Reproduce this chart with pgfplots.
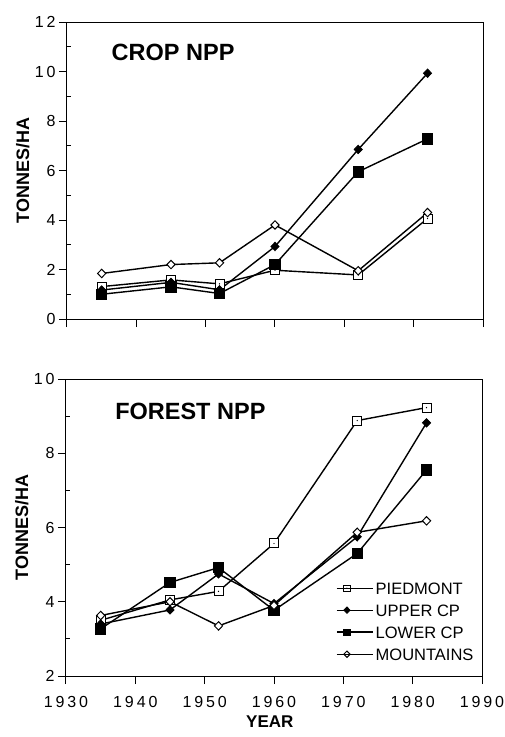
\documentclass[border=0pt]{standalone}
\usepackage{fontspec}
\setmainfont{Liberation Sans}
\newfontfamily\tickfont[LetterSpace=18]{Liberation Sans}
\usepackage{pgfplots}
\pgfplotsset{compat=1.18}

% open square with a small dot in the middle
\pgfdeclareplotmark{sqdot}{%
  \pgfpathrectangle{\pgfqpoint{-\pgfplotmarksize}{-\pgfplotmarksize}}{\pgfqpoint{2\pgfplotmarksize}{2\pgfplotmarksize}}%
  \pgfusepathqfillstroke
  \begin{pgfscope}
    \pgfsetfillcolor{black}%
    \pgfpathcircle{\pgfpointorigin}{0.7pt}%
    \pgfusepathqfill
  \end{pgfscope}
}

\pgfplotsset{
  npp/.style={
    scale only axis, width=416pt, height=297pt,
    xmin=1930, xmax=1990, xtick={1930,1940,...,1990},
    axis line style={line width=1pt},
    tick align=outside, xtick pos=bottom, ytick pos=left,
    major tick length=8pt, tick style={line width=1pt, black},
    /pgf/number format/assume math mode=true,
    /pgf/number format/1000 sep={},
    tick label style={font=\tickfont\fontsize{16}{19}\selectfont},
    xticklabel style={yshift=-9pt},
    ylabel={TONNES/HA},
    ylabel style={font=\bfseries\fontsize{18}{20}\selectfont, at={(rel axis cs:-0.106,0.5)}, anchor=center},
    extra y tick labels={},
    extra tick style={tick align=inside, major tick length=4pt},
    every axis plot/.append style={black, line width=1.4pt},
  },
  pied/.style={mark=sqdot, mark size=4.5pt, mark options={fill=white, line width=1pt}},
  upper/.style={mark=diamond*, mark size=4.2pt, mark options={fill=black, line width=0.8pt, xscale=1.3}},
  lower/.style={mark=square*, mark size=5.2pt, mark options={fill=black, line width=0.8pt}},
  mount/.style={mark=diamond*, mark size=4.2pt, mark options={fill=white, line width=1pt, xscale=1.3}},
}

\begin{document}
\begin{tikzpicture}
\useasboundingbox (0pt,0pt) rectangle (504pt,-737pt);

% crop panel
\begin{axis}[npp, at={(67pt,-319pt)}, anchor=south west,
  ymin=0, ymax=12, ytick={0,2,...,12}, extra y ticks={1,3,...,11},
  xticklabels={}]
  \addplot[pied] coordinates {(1935,1.31) (1945,1.58) (1952,1.42) (1960,1.97) (1972,1.78) (1982,4.06)};
  \addplot[upper] coordinates {(1935,1.17) (1945,1.48) (1952,1.18) (1960,2.93) (1972,6.85) (1982,9.93)};
  \addplot[lower] coordinates {(1935,1.00) (1945,1.30) (1952,1.03) (1960,2.20) (1972,5.95) (1982,7.28)};
  \addplot[mount] coordinates {(1935,1.84) (1945,2.20) (1952,2.27) (1960,3.80) (1972,1.95) (1982,4.30)};
  \node[anchor=base west, font=\bfseries\fontsize{23.5}{26}\selectfont] at (rel axis cs:0.099,0.869) {CROP NPP};
\end{axis}

% forest panel
\begin{axis}[npp, at={(66pt,-676pt)}, anchor=south west,
  ymin=2, ymax=10, ytick={2,4,...,10}, extra y ticks={3,5,7,9},
  xlabel={YEAR},
  xlabel style={font=\bfseries\fontsize{17}{20}\selectfont, at={(rel axis cs:0.49,-0.155)}, anchor=center},
  legend cell align=left,
  legend style={draw=none, fill=none, at={(rel axis cs:0.642,0.33)}, anchor=north west,
    font=\fontsize{16.5}{18}\selectfont, row sep=6pt,
    nodes={inner sep=2pt, text height=12pt, text depth=0pt}},
  legend image code/.code={%
    \draw[mark repeat=2, mark phase=2, #1, mark size=3.2pt, line width=1.2pt] plot coordinates {(0pt,0pt) (10pt,0pt) (20pt,0pt)};
    \path (0pt,0pt) -- (36pt,0pt);}]
  \addplot[pied] coordinates {(1935,3.50) (1945,4.05) (1952,4.28) (1960,5.57) (1972,8.88) (1982,9.23)};
  \addplot[upper] coordinates {(1935,3.40) (1945,3.78) (1952,4.75) (1960,3.95) (1972,5.75) (1982,8.82)};
  \addplot[lower] coordinates {(1935,3.27) (1945,4.52) (1952,4.92) (1960,3.77) (1972,5.30) (1982,7.55)};
  \addplot[mount] coordinates {(1935,3.63) (1945,4.00) (1952,3.35) (1960,3.90) (1972,5.87) (1982,6.18)};
  \legend{PIEDMONT, UPPER CP, LOWER CP, MOUNTAINS}
  \node[anchor=base west, font=\bfseries\fontsize{23.5}{26}\selectfont] at (rel axis cs:0.11,0.862) {FOREST NPP};
\end{axis}
\end{tikzpicture}
\end{document}
